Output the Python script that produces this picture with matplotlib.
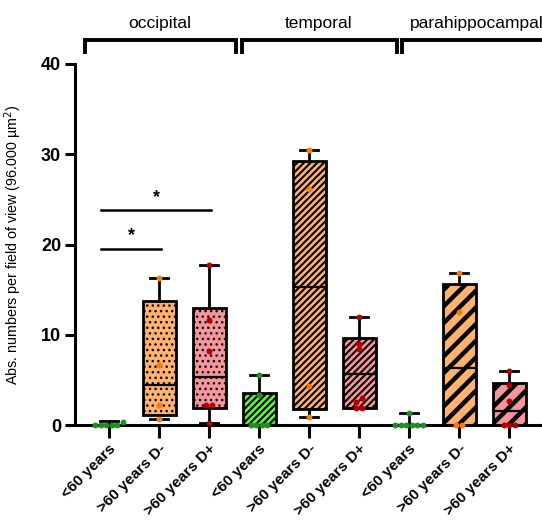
import matplotlib
matplotlib.use("Agg")
import matplotlib.pyplot as plt

plt.rcParams['font.family'] = ['Liberation Sans', 'DejaVu Sans']

# groups and categories
regions = ["occipital", "temporal", "parahippocampal"]
categories = ["<60 years", ">60 years D-", ">60 years D+"]

# box statistics (per box, 9 boxes, region-major)
q1 = [0, 1.1, 1.85, 0, 1.8, 1.85, 0, 0, 0]
med = [0, 4.4, 5.3, 0, 15.3, 5.7, 0, 6.3, 1.5]
q3 = [0, 13.7, 13.0, 3.6, 29.3, 9.6, 0, 15.6, 4.7]
whis_lo = [0, 0.7, 0.2, 0, 0.85, 1.85, 0, 0, 0]
whis_hi = [0.4, 16.3, 17.7, 5.5, 30.5, 12.0, 1.3, 16.8, 6.0]

# individual points
points = [
    [0, 0.3, 0, 0, 0, 0],
    [0.7, 2.2, 6.7, 16.3],
    [0.2, 2.2, 2.2, 8.2, 11.6, 17.7],
    [0, 0, 0, 0, 3.3, 5.5],
    [0.85, 4.3, 26.2, 30.5],
    [1.85, 1.85, 2.6, 3.0, 8.4, 9.0, 12.0],
    [0, 0, 0, 0, 0, 0, 1.3],
    [0, 0, 12.5, 16.8],
    [0, 0, 0, 2.7, 4.4, 6.0],
]

# significance: (box a, box b, height)
sig_pairs = [(0, 1, 19.5), (0, 2, 23.8)]

fills = ["#5CF53C", "#FFB26E", "#F6959B"]
dot_colors = ["#1F8F1F", "#FF7A00", "#B80000"]
hatches = ["...", "/////", "//"]
hatch_lw = [1.0, 1.5, 3.2]

# bracket extents (x data units) and label anchors
bracket_x = [(-0.48, 2.54), (2.66, 5.76), (5.86, 9.2)]
label_x = [1.02, 4.2, 6.02]


def swarm(vals, step=0.11, tol=0.45):
    order = sorted(range(len(vals)), key=lambda i: vals[i])
    offs = [0.0] * len(vals)
    clusters = []
    for i in order:
        if clusters and abs(vals[i] - vals[clusters[-1][-1]]) < tol:
            clusters[-1].append(i)
        else:
            clusters.append([i])
    for c in clusters:
        n = len(c)
        for k, i in enumerate(c):
            offs[i] = (k - (n - 1) / 2) * step
    return offs


fig = plt.figure(figsize=(5.42, 5.21), dpi=100)
ax = fig.add_axes([75 / 542, 96 / 521, (544 - 75) / 542, (425 - 64) / 521])

for i in range(9):
    r, c = divmod(i, 3)
    stats = [dict(q1=q1[i], med=med[i], q3=q3[i], whislo=whis_lo[i],
                  whishi=whis_hi[i], fliers=[])]
    with plt.rc_context({'hatch.linewidth': hatch_lw[r]}):
        bp = ax.bxp(stats, positions=[i], widths=0.66, patch_artist=True,
                    showfliers=False, manage_ticks=False,
                    boxprops=dict(facecolor=fills[c], edgecolor="black",
                                  linewidth=2.0, hatch=hatches[r]),
                    medianprops=dict(color="black", linewidth=1.6),
                    whiskerprops=dict(color="black", linewidth=2.0),
                    capprops=dict(color="black", linewidth=2.0),
                    capwidths=0.36)
    for b in bp["boxes"]:
        if hasattr(b, "set_hatch_linewidth"):
            b.set_hatch_linewidth(hatch_lw[r])
    offs = swarm(points[i])
    ax.scatter([i + o for o in offs], points[i], s=18, color=dot_colors[c],
               zorder=6, clip_on=False, linewidths=0)

for a, b, h in sig_pairs:
    ax.plot([a - 0.16, b + 0.04], [h, h], color="black", lw=1.8)
    ax.text((a - 0.16 + b + 0.04) / 2, h + 0.5, "*", ha="center", va="bottom",
            fontsize=13, fontweight="bold")

# region brackets above the axes
for r, name in enumerate(regions):
    x0, x1 = bracket_x[r]
    ax.plot([x0, x0, x1, x1], [41.3, 42.7, 42.7, 41.3], color="black", lw=2.8,
            clip_on=False, solid_joinstyle="miter")
    ax.text(label_x[r], 43.65, name, ha="center" if r < 2 else "left",
            va="bottom", fontsize=12.5)

ax.set_xlim(-0.68, 8.7)
ax.set_ylim(0, 40)
ax.set_yticks([0, 10, 20, 30, 40])
ax.set_yticklabels(["0", "10", "20", "30", "40"], fontsize=13, fontweight="bold")
ax.set_xticks(range(9))
ax.set_xticklabels(categories * 3, rotation=45, ha="right",
                   rotation_mode="anchor", fontsize=11, fontweight="bold")
ax.tick_params(axis="y", length=7, width=2.2, pad=3)
ax.tick_params(axis="x", length=9, width=2.2, pad=3)
for s in ["top", "right"]:
    ax.spines[s].set_visible(False)
for s in ["left", "bottom"]:
    ax.spines[s].set_linewidth(2.2)
ax.set_ylabel("Abs. numbers per field of view (96.000 \u00b5m$^2$)", fontsize=10.3)
ax.yaxis.set_label_coords(-0.108, 0.5)

fig.savefig("out.png", dpi=100)
